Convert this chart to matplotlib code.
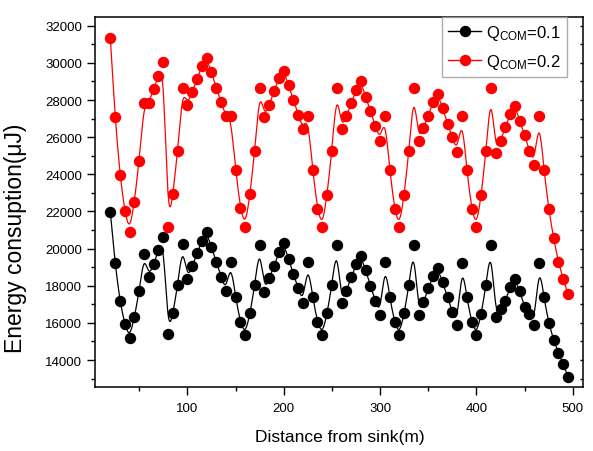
import numpy as np
import matplotlib
matplotlib.use("Agg")
import matplotlib.pyplot as plt
from matplotlib.lines import Line2D
from matplotlib.ticker import MultipleLocator

plt.rcParams['font.family'] = ['Liberation Sans', 'DejaVu Sans']
plt.rcParams['mathtext.fontset'] = 'custom'
plt.rcParams['mathtext.rm'] = 'Liberation Sans'
plt.rcParams['mathtext.it'] = 'Liberation Sans:italic'
plt.rcParams['mathtext.bf'] = 'Liberation Sans:bold'

# ---- data ----
distance = list(range(20, 500, 5))

energy_q01 = [
    21980, 19200, 17160, 15940, 15170, 16300, 17700, 19710, 18480, 19170,
    19920, 20600, 15400, 16510, 18050, 20240, 18360, 19040, 19740, 20420,
    20870, 20070, 19290, 18480, 17700, 19290, 17370, 16030, 15360, 16510,
    18050, 20220, 17680, 18400, 19080, 19830, 20280, 19440, 18630, 17880,
    17050, 19260, 17370, 16030, 15360, 16510, 18040, 20210, 17050, 17730,
    18450, 19170, 19610, 18840, 18000, 17190, 16420, 19260, 17370, 16030,
    15360, 16510, 18040, 20210, 16420, 17110, 17860, 18520, 18930, 18180,
    17370, 16570, 15900, 19220, 17370, 16030, 15360, 16500, 18040, 20210,
    16300, 16750, 17190, 17910, 18360, 17700, 16850, 16500, 15900, 19240,
    17370, 16000, 15100, 14400, 13800, 13100,
]

energy_q02 = [
    31340, 27070, 23980, 22000, 20880, 22520, 24730, 27840, 27840, 28590,
    29310, 30030, 21140, 22940, 25270, 28630, 27730, 28410, 29130, 29850,
    30260, 29490, 28650, 27880, 27120, 27120, 24230, 22170, 21140, 22940,
    25270, 28630, 27070, 27730, 28500, 29170, 29580, 28810, 28000, 27210,
    26440, 27120, 24230, 22130, 21140, 22900, 25270, 28630, 26440, 27120,
    27820, 28540, 29010, 28180, 27390, 26620, 25810, 27150, 24230, 22130,
    21140, 22900, 25270, 28630, 25780, 26500, 27150, 27910, 28320, 27550,
    26710, 25990, 25180, 27150, 24230, 22130, 21140, 22900, 25270, 28630,
    25150, 25810, 26530, 27250, 27690, 26880, 26110, 25270, 24500, 27150,
    24250, 22130, 20570, 19290, 18360, 17550,
]

labels = [r'Q$_{\mathrm{COM}}$=0.1', r'Q$_{\mathrm{COM}}$=0.2']
colors = ['#000000', '#ff0000']
x_label = 'Distance from sink(m)'
y_label = 'Energy consuption(\u03bcJ)'


def bspline(xs, ys, n=20):
    """Clamped uniform cubic B-spline over the data points (like Origin's B-Spline connect)."""
    px = np.concatenate([[xs[0]] * 2, xs, [xs[-1]] * 2]).astype(float)
    py = np.concatenate([[ys[0]] * 2, ys, [ys[-1]] * 2]).astype(float)
    t = np.linspace(0, 1, n, endpoint=False)
    b0 = (1 - t) ** 3 / 6
    b1 = (3 * t ** 3 - 6 * t ** 2 + 4) / 6
    b2 = (-3 * t ** 3 + 3 * t ** 2 + 3 * t + 1) / 6
    b3 = t ** 3 / 6
    cx, cy = [], []
    for j in range(len(px) - 3):
        cx.append(b0 * px[j] + b1 * px[j + 1] + b2 * px[j + 2] + b3 * px[j + 3])
        cy.append(b0 * py[j] + b1 * py[j + 1] + b2 * py[j + 2] + b3 * py[j + 3])
    cx.append([px[-1]])
    cy.append([py[-1]])
    return np.concatenate(cx), np.concatenate(cy)


fig = plt.figure(figsize=(5.93, 4.52), dpi=100)
ax = fig.add_axes([0.160, 0.1416, 0.823, 0.8186])

x = np.array(distance)
handles = []
for ys, c, lab in zip([energy_q01, energy_q02], colors, labels):
    ys = np.array(ys)
    cx, cy = bspline(x, ys)
    ax.plot(cx, cy, color=c, lw=0.9, zorder=2)
    ax.plot(x, ys, 'o', color=c, ms=7.2, mec=c, zorder=3)
    handles.append(Line2D([], [], color=c, lw=1.0, marker='o', ms=7.2, label=lab))

ax.set_xlim(4, 510.5)
ax.set_ylim(12550, 32470)
ax.xaxis.set_major_locator(MultipleLocator(100))
ax.xaxis.set_minor_locator(MultipleLocator(50))
ax.yaxis.set_major_locator(MultipleLocator(2000))
ax.yaxis.set_minor_locator(MultipleLocator(1000))

ax.tick_params(axis='both', which='major', direction='out', length=6, width=1,
               labelsize=9.5, colors='black')
ax.tick_params(axis='x', which='major', pad=5)
ax.tick_params(axis='y', which='major', pad=3)
ax.tick_params(axis='both', which='minor', direction='out', length=3, width=1)
ax.tick_params(axis='both', which='both', top=False, right=True)
# right axis ticks pointing inward
for t in ax.yaxis.get_major_ticks() + ax.yaxis.get_minor_ticks():
    t.tick2line.set_marker(matplotlib.markers.TICKLEFT)
    t.tick2line.set_markersize(2.5)

for s in ax.spines.values():
    s.set_linewidth(1.1)

ax.set_xlabel(x_label, fontsize=12.5)
ax.xaxis.set_label_coords(0.502, -0.114)
ax.set_ylabel(y_label, fontsize=16.5)
ax.yaxis.set_label_coords(-0.139, 0.405)

leg = ax.legend(handles=handles, loc='upper right', bbox_to_anchor=(0.967, 1.0),
                borderaxespad=0, fontsize=12, frameon=True, fancybox=False,
                edgecolor='#999999', handlelength=2.0, handletextpad=0.3,
                borderpad=0.35, labelspacing=0.6)
leg.get_frame().set_linewidth(1.0)

fig.savefig('out.png', dpi=100)
